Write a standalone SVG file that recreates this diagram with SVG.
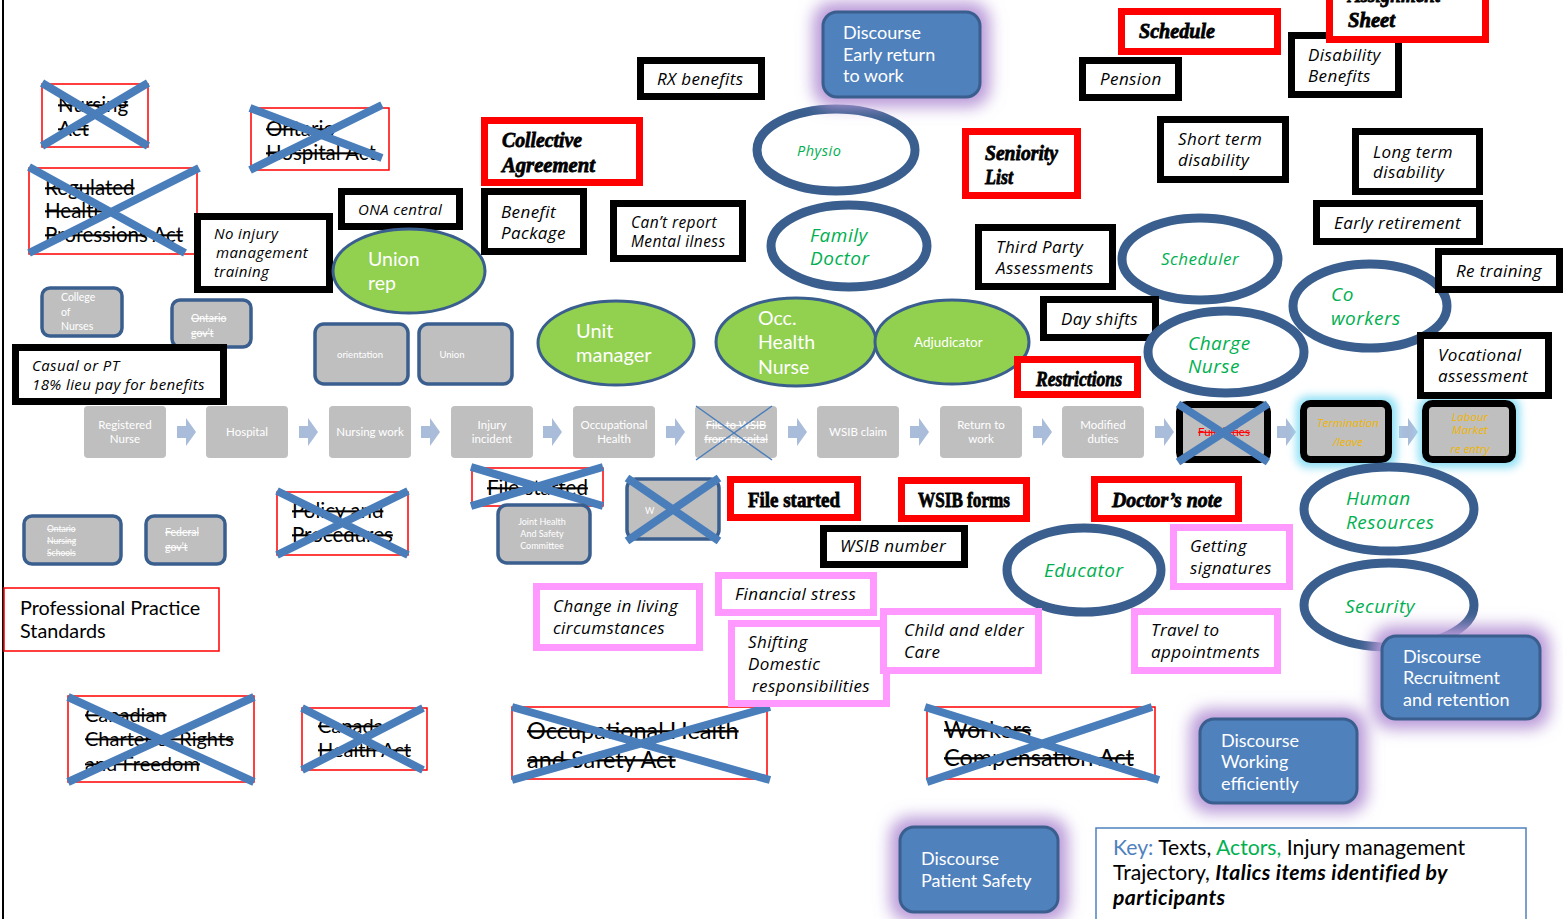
<svg xmlns="http://www.w3.org/2000/svg" width="1563" height="919" viewBox="0 0 1563 919">
<defs>
<filter id="blur" x="-30%" y="-30%" width="160%" height="160%"><feGaussianBlur stdDeviation="8"/></filter>
<filter id="blur2" x="-30%" y="-30%" width="160%" height="160%"><feGaussianBlur stdDeviation="4"/></filter>
</defs>
<style>
.bx{fill:#fff;stroke:#000;stroke-width:7}
.rb{fill:#fff;stroke:#f00;stroke-width:7}
.pk{fill:#fff;stroke:#ff99ff;stroke-width:7}
.xr{fill:#fff;stroke:#f00;stroke-width:1.5}
.x{stroke:#4a7ebb;stroke-width:8;fill:none}
.xt{stroke:#4a7ebb;stroke-width:1.5;fill:none}
.it{font-family:"Open Sans","Noto Sans",sans-serif;font-style:italic;fill:#000;letter-spacing:0.4px}
.st{font-family:Lato,"Liberation Sans",sans-serif;fill:#000;text-decoration:line-through}
.ge{fill:#92d050;stroke:#3a5f8e;stroke-width:3}
.we{fill:#fff;stroke:#3a5f8e;stroke-width:9}
.gt{font-family:"Open Sans","Noto Sans",sans-serif;fill:#00b050;font-style:italic;letter-spacing:0.5px}
.wt{font-family:Lato,"Liberation Sans",sans-serif;fill:#fff}
.gr{fill:#bfbfbf;stroke:#3a5f8e;stroke-width:3.5}
.pr{fill:#bfbfbf}
.ds{fill:#4f81bd;stroke:#3a5f8e;stroke-width:3}
.glow{fill:#b99ad8;filter:url(#blur)}
.cglow{fill:#8fe0f5;filter:url(#blur2)}
.bd{font-family:"Liberation Serif","DejaVu Serif",serif;font-weight:bold;font-style:italic;fill:#000;stroke:#000;stroke-width:0.8;font-size:22px}
.bu{font-family:"Liberation Serif","DejaVu Serif",serif;font-weight:bold;fill:#000;stroke:#000;stroke-width:0.8;font-size:22px}
.arr{fill:#a9bcd9}
.ot{font-family:"Open Sans","Noto Sans",sans-serif;font-style:italic;fill:#f0b400;font-size:11.5px}
</style>
<rect width="1563" height="919" fill="#fff"/>
<line x1="3" y1="0" x2="3" y2="919" stroke="#000" stroke-width="2"/>

<!-- connectors: process-row arrows -->
<g id="connectors">
<path class="arr" d="M177,426h9v-8l10,14l-10,14v-8h-9z"/>
<path class="arr" d="M299,426h9v-8l10,14l-10,14v-8h-9z"/>
<path class="arr" d="M421,426h9v-8l10,14l-10,14v-8h-9z"/>
<path class="arr" d="M543,426h9v-8l10,14l-10,14v-8h-9z"/>
<path class="arr" d="M666,426h9v-8l10,14l-10,14v-8h-9z"/>
<path class="arr" d="M788,426h9v-8l10,14l-10,14v-8h-9z"/>
<path class="arr" d="M910,426h9v-8l10,14l-10,14v-8h-9z"/>
<path class="arr" d="M1033,426h9v-8l10,14l-10,14v-8h-9z"/>
<path class="arr" d="M1155,426h9v-8l10,14l-10,14v-8h-9z"/>
<path class="arr" d="M1277,426h9v-8l10,14l-10,14v-8h-9z"/>
<path class="arr" d="M1399,426h9v-8l10,14l-10,14v-8h-9z"/>
</g>

<!-- crossed-out acts -->
<g id="nursing-act"><rect class="xr" x="42" y="84" width="106" height="63"/>
<text class="st" font-size="20.5" x="58" y="112">Nursing</text><text class="st" font-size="20.5" x="58" y="136">Act</text>
<path class="x" d="M42,83L148,146M148,83L42,146"/></g>
<g id="ontario-hospital-act"><rect class="xr" x="251" y="108" width="138" height="62"/>
<text class="st" font-size="20.5" x="266" y="136">Ontario</text><text class="st" font-size="20.5" x="266" y="160">Hospital Act</text>
<path class="x" d="M250,108L382,158M382,105L250,170"/></g>
<g id="regulated-health"><rect class="xr" x="29" y="168" width="168" height="86"/>
<text class="st" font-size="20.5" x="45" y="195">Regulated</text><text class="st" font-size="20.5" x="45" y="218">Health</text><text class="st" font-size="20.5" x="45" y="242">Professions Act</text>
<path class="x" d="M29,167L185,253M199,168L29,253"/></g>
<g id="policy"><rect class="xr" x="277" y="492" width="131" height="63"/>
<text class="st" font-size="20.5" x="292" y="518">Policy and</text><text class="st" font-size="20.5" x="292" y="542">Procedures</text>
<path class="x" d="M277,491L408,555M408,491L277,555"/></g>
<g id="file-started-x"><rect class="xr" x="472" y="468" width="131" height="38"/>
<text class="st" font-size="20.5" x="487" y="495">File started</text>
<path class="x" d="M471,467L603,506M603,467L471,506"/></g>
<g id="charter"><rect class="xr" x="68" y="696" width="186" height="86"/>
<text class="st" font-size="20" x="85" y="722">Canadian</text><text class="st" font-size="20" x="85" y="746">Charter of Rights</text><text class="st" font-size="20" x="85" y="771">and Freedom</text>
<path class="x" d="M68,697L254,782M254,697L68,782"/></g>
<g id="canada-health"><rect class="xr" x="302" y="708" width="125" height="62"/>
<text class="st" font-size="20" x="318" y="733">Canada</text><text class="st" font-size="20" x="318" y="757">Health Act</text>
<path class="x" d="M302,708L423,770M423,708L302,770"/></g>
<g id="ohsa"><rect class="xr" x="512" y="707" width="255" height="72"/>
<text class="st" font-size="23.5" x="527" y="739">Occupational Health</text><text class="st" font-size="23.5" x="527" y="768">and Safety Act</text>
<path class="x" d="M512,707L770,780M770,707L512,780"/></g>
<g id="wca"><rect class="xr" x="927" y="707" width="228" height="72"/>
<text class="st" font-size="23.5" x="944" y="738">Workers</text><text class="st" font-size="23.5" x="944" y="766">Compensation Act</text>
<path class="x" d="M925,707L1159,780M1152,707L927,782"/></g>
<g id="pps"><rect class="xr" x="4" y="588" width="215" height="63"/>
<text font-family="Lato,'Liberation Sans',sans-serif" font-size="19.8" x="20" y="615">Professional Practice</text><text font-family="Lato,'Liberation Sans',sans-serif" font-size="19.8" x="20" y="638">Standards</text></g>

<!-- grey institution boxes -->
<g id="college"><rect class="gr" x="42" y="288" width="80" height="48" rx="8"/>
<text class="wt" font-size="10.5" x="61" y="301">College</text><text class="wt" font-size="10.5" x="61" y="316">of</text><text class="wt" font-size="10.5" x="61" y="330">Nurses</text></g>
<g id="ontario-gov"><rect class="gr" x="172" y="300" width="79" height="47" rx="8"/>
<text class="wt" font-size="10.5" x="191" y="322" text-decoration="line-through">Ontario</text><text class="wt" font-size="10.5" x="191" y="337" text-decoration="line-through">gov’t</text></g>
<g id="orientation"><rect class="gr" x="315" y="324" width="93" height="60" rx="9"/>
<text class="wt" font-size="9.5" x="360" y="358" text-anchor="middle">orientation</text></g>
<g id="union"><rect class="gr" x="419" y="324" width="93" height="60" rx="9"/>
<text class="wt" font-size="9.5" x="452" y="358" text-anchor="middle">Union</text></g>
<g id="ont-nursing-schools"><rect class="gr" x="24" y="516" width="97" height="48" rx="8"/>
<text class="wt" font-size="8.5" x="47" y="532" text-decoration="line-through">Ontario</text><text class="wt" font-size="8.5" x="47" y="544" text-decoration="line-through">Nursing</text><text class="wt" font-size="8.5" x="47" y="556" text-decoration="line-through">Schools</text></g>
<g id="federal-gov"><rect class="gr" x="146" y="516" width="79" height="48" rx="8"/>
<text class="wt" font-size="10.5" x="165" y="536" text-decoration="line-through">Federal</text><text class="wt" font-size="10.5" x="165" y="551" text-decoration="line-through">gov’t</text></g>
<g id="jhsc"><rect class="gr" x="498" y="505" width="92" height="58" rx="9"/>
<text class="wt" font-size="9" x="542" y="525" text-anchor="middle">Joint Health</text><text class="wt" font-size="9" x="542" y="537" text-anchor="middle">And Safety</text><text class="wt" font-size="9" x="542" y="549" text-anchor="middle">Committee</text></g>
<g id="w-box"><rect class="gr" x="627" y="479" width="92" height="60" rx="9"/>
<text class="wt" font-size="9" x="645" y="514">W</text>
<path class="x" d="M627,478L719,541M719,478L627,541"/></g>

<!-- process row -->
<g id="p1"><rect class="pr" x="84" y="406" width="82" height="52" rx="4"/><text class="wt" font-size="11.5" x="125" y="429" text-anchor="middle">Registered</text><text class="wt" font-size="11.5" x="125" y="443" text-anchor="middle">Nurse</text></g>
<g id="p2"><rect class="pr" x="206" y="406" width="82" height="52" rx="4"/><text class="wt" font-size="11.5" x="247" y="436" text-anchor="middle">Hospital</text></g>
<g id="p3"><rect class="pr" x="329" y="406" width="82" height="52" rx="4"/><text class="wt" font-size="11.5" x="370" y="436" text-anchor="middle">Nursing work</text></g>
<g id="p4"><rect class="pr" x="451" y="406" width="82" height="52" rx="4"/><text class="wt" font-size="11.5" x="492" y="429" text-anchor="middle">Injury</text><text class="wt" font-size="11.5" x="492" y="443" text-anchor="middle">incident</text></g>
<g id="p5"><rect class="pr" x="573" y="406" width="82" height="52" rx="4"/><text class="wt" font-size="11.5" x="614" y="429" text-anchor="middle">Occupational</text><text class="wt" font-size="11.5" x="614" y="443" text-anchor="middle">Health</text></g>
<g id="p6"><rect class="pr" x="695" y="406" width="82" height="52" rx="4"/><text class="wt" font-size="11" x="736" y="429" text-anchor="middle" text-decoration="line-through">File to WSIB</text><text class="wt" font-size="11" x="736" y="443" text-anchor="middle" text-decoration="line-through">from hospital</text>
<path class="xt" d="M696,406L772,460M772,406L696,460"/></g>
<g id="p7"><rect class="pr" x="817" y="406" width="82" height="52" rx="4"/><text class="wt" font-size="11.5" x="858" y="436" text-anchor="middle">WSIB claim</text></g>
<g id="p8"><rect class="pr" x="940" y="406" width="82" height="52" rx="4"/><text class="wt" font-size="11.5" x="981" y="429" text-anchor="middle">Return to</text><text class="wt" font-size="11.5" x="981" y="443" text-anchor="middle">work</text></g>
<g id="p9"><rect class="pr" x="1062" y="406" width="82" height="52" rx="4"/><text class="wt" font-size="11.5" x="1103" y="429" text-anchor="middle">Modified</text><text class="wt" font-size="11.5" x="1103" y="443" text-anchor="middle">duties</text></g>
<g id="p10"><rect x="1179.5" y="404.5" width="88" height="55" rx="7" fill="#bfbfbf" stroke="#000" stroke-width="7"/>
<text font-family="Lato,'Liberation Sans',sans-serif" font-size="11.5" fill="#f00" x="1224" y="436" text-anchor="middle" text-decoration="line-through">Full duties</text>
<path class="x" d="M1178,404L1268,462M1268,404L1178,462"/></g>
<g id="p11"><rect class="cglow" x="1296" y="396" width="101" height="72" rx="12"/><rect x="1303.5" y="403.5" width="85" height="56" rx="7" fill="#bfbfbf" stroke="#000" stroke-width="7"/>
<text class="ot" x="1348" y="427" text-anchor="middle">Termination</text><text class="ot" x="1348" y="446" text-anchor="middle">/leave</text></g>
<g id="p12"><rect class="cglow" x="1418" y="396" width="102" height="72" rx="12"/><rect x="1425.5" y="403.5" width="87" height="56" rx="7" fill="#bfbfbf" stroke="#000" stroke-width="7"/>
<text class="ot" x="1470" y="421" text-anchor="middle">Labour</text><text class="ot" x="1470" y="434" text-anchor="middle">Market</text><text class="ot" x="1470" y="453" text-anchor="middle">re entry</text></g>

<!-- black text boxes -->
<g id="rx"><rect class="bx" x="640.5" y="60.5" width="121" height="36"/><text class="it" font-size="17" x="657" y="85">RX benefits</text></g>
<g id="ona"><rect class="bx" x="341.5" y="191.5" width="118" height="35"/><text class="it" font-size="15" x="358" y="215">ONA central</text></g>
<g id="noinjury"><rect class="bx" x="197.5" y="216.5" width="132" height="73"/><text class="it" font-size="15" x="214" y="239">No injury</text><text class="it" font-size="15" x="216" y="258">management</text><text class="it" font-size="15" x="214" y="277">training</text></g>
<g id="casual"><rect class="bx" x="15.5" y="347.5" width="208" height="54"/><text class="it" font-size="15" x="32" y="371">Casual or PT</text><text class="it" font-size="15" x="32" y="390">18% lieu pay for benefits</text></g>
<g id="benefit"><rect class="bx" x="484.5" y="191.5" width="99" height="60"/><text class="it" font-size="17" x="501" y="218">Benefit</text><text class="it" font-size="17" x="501" y="239">Package</text></g>
<g id="cantreport"><rect class="bx" x="613.5" y="203.5" width="129" height="55"/><text class="it" font-size="15.5" x="631" y="228">Can’t report</text><text class="it" font-size="15.5" x="631" y="247">Mental ilness</text></g>
<g id="pension"><rect class="bx" x="1082.5" y="60.5" width="96" height="37"/><text class="it" font-size="17" x="1100" y="85">Pension</text></g>
<g id="disability"><rect class="bx" x="1291.5" y="35.5" width="107" height="59"/><text class="it" font-size="17" x="1308" y="61">Disability</text><text class="it" font-size="17" x="1308" y="82">Benefits</text></g>
<g id="shortterm"><rect class="bx" x="1160.5" y="119.5" width="125" height="60"/><text class="it" font-size="17" x="1178" y="145">Short term</text><text class="it" font-size="17" x="1178" y="166">disability</text></g>
<g id="longterm"><rect class="bx" x="1355.5" y="131.5" width="124" height="60"/><text class="it" font-size="17" x="1373" y="158">Long  term</text><text class="it" font-size="17" x="1373" y="178">disability</text></g>
<g id="early"><rect class="bx" x="1316.5" y="203.5" width="163" height="38"/><text class="it" font-size="17" x="1334" y="229">Early retirement</text></g>
<g id="thirdparty"><rect class="bx" x="978.5" y="227.5" width="134" height="59"/><text class="it" font-size="17" x="996" y="253">Third Party</text><text class="it" font-size="17" x="996" y="274">Assessments</text></g>

<!-- green actor ellipses -->
<g id="unionrep"><ellipse class="ge" cx="409" cy="271" rx="76" ry="42"/><text class="wt" font-size="19.5" x="368" y="266">Union</text><text class="wt" font-size="19.5" x="368" y="290">rep</text></g>
<g id="unitmgr"><ellipse class="ge" cx="616" cy="343" rx="78" ry="42"/><text class="wt" font-size="20" x="576" y="338">Unit</text><text class="wt" font-size="20" x="576" y="362">manager</text></g>
<g id="ohn"><ellipse class="ge" cx="796" cy="342" rx="80" ry="44"/><text class="wt" font-size="19.5" x="758" y="325">Occ.</text><text class="wt" font-size="19.5" x="758" y="349">Health</text><text class="wt" font-size="19.5" x="758" y="374">Nurse</text></g>
<g id="adjud"><ellipse class="ge" cx="952" cy="342" rx="77" ry="42"/><text class="wt" font-size="13.5" x="914" y="347">Adjudicator</text></g>

<!-- white actor ellipses -->
<g id="physio"><ellipse class="we" cx="836" cy="150" rx="79" ry="41"/><text class="gt" font-size="14.5" x="797" y="156">Physio</text></g>
<g id="familydoc"><ellipse class="we" cx="849" cy="246" rx="78" ry="41"/><text class="gt" font-size="19" x="810" y="242">Family</text><text class="gt" font-size="19" x="810" y="265">Doctor</text></g>
<g id="scheduler"><ellipse class="we" cx="1200" cy="259" rx="78" ry="41"/><text class="gt" font-size="17" x="1161" y="265">Scheduler</text></g>
<g id="daysh"><rect class="bx" x="1043.5" y="299.5" width="112" height="38"/><text class="it" font-size="17" x="1061" y="325">Day shifts</text></g>
<g id="chargenurse"><ellipse class="we" cx="1226" cy="352" rx="78" ry="41"/><text class="gt" font-size="19" x="1188" y="350">Charge</text><text class="gt" font-size="19" x="1188" y="373">Nurse</text></g>
<g id="coworkers"><ellipse class="we" cx="1370" cy="306" rx="77" ry="42"/><text class="gt" font-size="19" x="1331" y="301">Co</text><text class="gt" font-size="19" x="1331" y="325">workers</text></g>
<g id="retrain"><rect class="bx" x="1438.5" y="251.5" width="121" height="38"/><text class="it" font-size="17" x="1456" y="277">Re training</text></g>
<g id="vocational"><rect class="bx" x="1420.5" y="335.5" width="128" height="60"/><text class="it" font-size="17" x="1438" y="361">Vocational</text><text class="it" font-size="17" x="1438" y="382">assessment</text></g>
<g id="hr"><ellipse class="we" cx="1389" cy="509" rx="85" ry="42"/><text class="gt" font-size="19" x="1346" y="505">Human</text><text class="gt" font-size="19" x="1346" y="529">Resources</text></g>
<g id="educator"><ellipse class="we" cx="1084" cy="570" rx="77" ry="42"/><text class="gt" font-size="19" x="1044" y="577">Educator</text></g>

<!-- red key texts -->
<g id="collective"><rect class="rb" x="484.5" y="120.5" width="155" height="62"/><text class="bd" x="502" y="147" textLength="80" lengthAdjust="spacingAndGlyphs">Collective</text><text class="bd" x="502" y="172" textLength="93" lengthAdjust="spacingAndGlyphs">Agreement</text></g>
<g id="seniority"><rect class="rb" x="965.5" y="131.5" width="112" height="64"/><text class="bd" x="985" y="160" textLength="73" lengthAdjust="spacingAndGlyphs">Seniority</text><text class="bd" x="985" y="184" textLength="28" lengthAdjust="spacingAndGlyphs">List</text></g>
<g id="schedule"><rect class="rb" x="1121.5" y="11.5" width="156" height="40"/><text class="bd" x="1139" y="38" textLength="76" lengthAdjust="spacingAndGlyphs">Schedule</text></g>
<g id="assignment"><rect class="rb" x="1329.5" y="-10" width="156" height="49.5"/><text class="bd" x="1348" y="2" textLength="92" lengthAdjust="spacingAndGlyphs">Assignment</text><text class="bd" x="1348" y="27" textLength="47" lengthAdjust="spacingAndGlyphs">Sheet</text></g>
<g id="restrictions"><rect class="rb" x="1017.5" y="359.5" width="120" height="35"/><text class="bd" x="1036" y="386" textLength="86" lengthAdjust="spacingAndGlyphs">Restrictions</text></g>
<g id="filestarted"><rect class="rb" x="730.5" y="479.5" width="127" height="38"/><text class="bu" x="748" y="507" textLength="92" lengthAdjust="spacingAndGlyphs">File started</text></g>
<g id="wsibforms"><rect class="rb" x="901.5" y="480.5" width="125" height="38"/><text class="bu" x="918" y="507" textLength="92" lengthAdjust="spacingAndGlyphs">WSIB forms</text></g>
<g id="doctorsnote"><rect class="rb" x="1094.5" y="479.5" width="144" height="39"/><text class="bd" x="1112" y="507" textLength="110" lengthAdjust="spacingAndGlyphs">Doctor’s note</text></g>
<g id="wsibnumber"><rect class="bx" x="823.5" y="528.5" width="141" height="36"/><text class="it" font-size="17" x="840" y="552">WSIB number</text></g>

<!-- pink participant boxes -->
<g id="change"><rect class="pk" x="536.5" y="586.5" width="163" height="61"/><text class="it" font-size="17" x="553" y="612">Change in living</text><text class="it" font-size="17" x="553" y="634">circumstances</text></g>
<g id="financial"><rect class="pk" x="718.5" y="575.5" width="155" height="37"/><text class="it" font-size="17" x="735" y="600">Financial stress</text></g>
<g id="shifting"><rect class="pk" x="731.5" y="623.5" width="155" height="80"/><text class="it" font-size="17" x="748" y="648">Shifting</text><text class="it" font-size="17" x="748" y="670">Domestic</text><text class="it" font-size="17" x="752" y="692">responsibilities</text></g>
<g id="child"><rect class="pk" x="883.5" y="611.5" width="155" height="59"/><text class="it" font-size="17" x="904" y="636">Child and elder</text><text class="it" font-size="17" x="904" y="658">Care</text></g>
<g id="getting"><rect class="pk" x="1173.5" y="527.5" width="116" height="59"/><text class="it" font-size="17" x="1190" y="552">Getting</text><text class="it" font-size="17" x="1190" y="574">signatures</text></g>
<g id="travel"><rect class="pk" x="1134.5" y="611.5" width="143" height="59"/><text class="it" font-size="17" x="1151" y="636">Travel to</text><text class="it" font-size="17" x="1151" y="658">appointments</text></g>

<!-- discourses -->
<g id="d-early"><rect class="glow" x="813" y="2" width="177" height="105" rx="20"/><rect class="ds" x="823" y="12" width="157" height="85" rx="14"/>
<text class="wt" font-size="18" x="843" y="39">Discourse</text><text class="wt" font-size="18" x="843" y="61">Early return</text><text class="wt" font-size="18" x="843" y="82">to work</text></g>
<g id="security"><ellipse class="we" cx="1389" cy="605" rx="85" ry="42"/><text class="gt" font-size="19" x="1345" y="613">Security</text></g>
<g id="d-recruit"><rect class="glow" x="1372" y="626" width="178" height="103" rx="20"/><rect class="ds" x="1382" y="636" width="158" height="83" rx="14"/>
<text class="wt" font-size="18" x="1403" y="663">Discourse</text><text class="wt" font-size="18" x="1403" y="684">Recruitment</text><text class="wt" font-size="18" x="1403" y="706">and retention</text></g>
<g id="d-working"><rect class="glow" x="1190" y="709" width="177" height="104" rx="20"/><rect class="ds" x="1200" y="719" width="157" height="84" rx="14"/>
<text class="wt" font-size="18" x="1221" y="747">Discourse</text><text class="wt" font-size="18" x="1221" y="768">Working</text><text class="wt" font-size="18" x="1221" y="790">efficiently</text></g>
<g id="d-patient"><rect class="glow" x="890" y="817" width="178" height="105" rx="20"/><rect class="ds" x="900" y="827" width="158" height="85" rx="14"/>
<text class="wt" font-size="18" x="921" y="865">Discourse</text><text class="wt" font-size="18" x="921" y="887">Patient Safety</text></g>

<!-- key -->
<g id="key"><rect x="1096" y="828" width="430" height="95" fill="#fff" stroke="#4f81bd" stroke-width="1.5"/>
<text font-family="Lato,'Liberation Sans',sans-serif" font-size="21.2" x="1113" y="855"><tspan fill="#4f81bd">Key:</tspan> Texts, <tspan fill="#00b050">Actors,</tspan> Injury management</text>
<text font-family="Lato,'Liberation Sans',sans-serif" font-size="21.2" x="1113" y="880">Trajectory, <tspan font-weight="bold" font-style="italic" letter-spacing="0.4">Italics items identified by</tspan></text>
<text font-family="Lato,'Liberation Sans',sans-serif" font-size="21.2" x="1113" y="905" font-weight="bold" font-style="italic" letter-spacing="0.4">participants</text></g>
</svg>
